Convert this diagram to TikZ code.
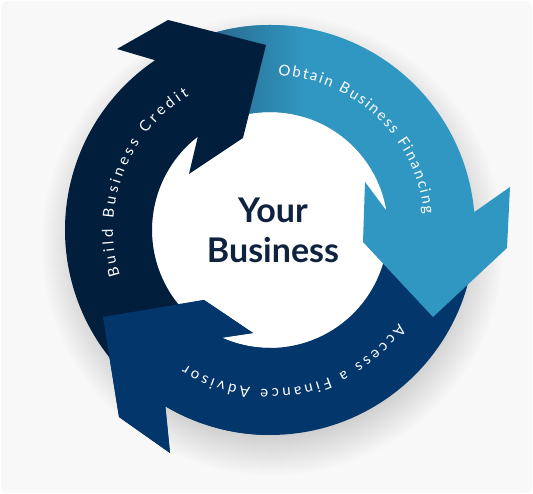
\documentclass[tikz,border=0pt]{standalone}
\usepackage{fontspec}
\setmainfont{Lato}
\newfontfamily\arcfont{Lato}
\usetikzlibrary{decorations.text}
\definecolor{bgc}{HTML}{F8F8F8}
\definecolor{shd}{HTML}{CFCFCF}
\definecolor{darknavy}{HTML}{011F3D}
\definecolor{midnavy}{HTML}{03366A}
\definecolor{lblue}{HTML}{3097C2}
\definecolor{tealdk}{HTML}{28698C}
\definecolor{ctext}{HTML}{0F2340}
\pgfdeclareradialshading{ringshade}{\pgfpointorigin}{color(0bp)=(shd); color(20.5bp)=(shd); color(25bp)=(bgc); color(50bp)=(bgc)}
\newcommand\lightpath{(118:205) arc [start angle=118, end angle=5, radius=205] -- (240,43) -- (237,-18) -- (163,-87) -- (93,-12) -- (95,48) -- (9.5:118) arc [start angle=9.5, end angle=118, radius=118] -- cycle}
\newcommand\darkpath{(225:205) arc [start angle=225, end angle=124.1, radius=205] -- (-153,181) -- (-102,210) -- (-4,185) -- (-27,92) -- (-81,56) -- (127.7:118) arc [start angle=127.7, end angle=225, radius=118] -- cycle}
\newcommand\midpath{(2:205) arc [start angle=2, end angle=-120.7, radius=205] -- (-100,-223) -- (-151,-187) -- (-167,-87) -- (-66,-70) -- (-17,-103) -- (-114.1:118) arc [start angle=-114.1, end angle=2, radius=118] -- cycle}
\begin{document}
\begin{tikzpicture}[x=1pt,y=1pt,
    arctext/.style={decorate, decoration={text along path, text={|\arcfont\fontsize{15}{15}\selectfont|#1}, text align={fit to path}, text color=white}}]
    \useasboundingbox (0,0) rectangle (533,494);
    \fill [bgc, rounded corners=6pt] (1,1) rectangle (532,493);
    \begin{scope}[shift={(270,264)}]
        \coordinate (c) at (0,0);
        \shade [shading=ringshade] (2,-14) circle (232);
        \fill [white] (c) circle (118);
        \fill [midnavy] \midpath;
        \fill [lblue] \lightpath;
        \begin{scope}
            \clip \lightpath;
            \shade [left color=tealdk, right color=lblue] (-60,60) rectangle (35,230);
        \end{scope}
        \fill [darknavy] \darkpath;
        \begin{scope}
            \clip (-270,-264) rectangle (0,0);
            \fill [midnavy] \midpath;
        \end{scope}
        \path [arctext={Build Business Credit}] (197:157) arc [start angle=197, end angle=121, radius=157];
        \path [arctext={Obtain Business Financing}] (87:155) arc [start angle=87, end angle=6, radius=155];
        \path [arctext={Access a Finance Advisor}] (-36:159) arc [start angle=-36, end angle=-122, radius=159];
        \node (biz) at (3,0) [align=center, text=ctext, font=\bfseries\fontsize{34}{40}\selectfont] {Your\\Business};
    \end{scope}
\end{tikzpicture}
\end{document}
